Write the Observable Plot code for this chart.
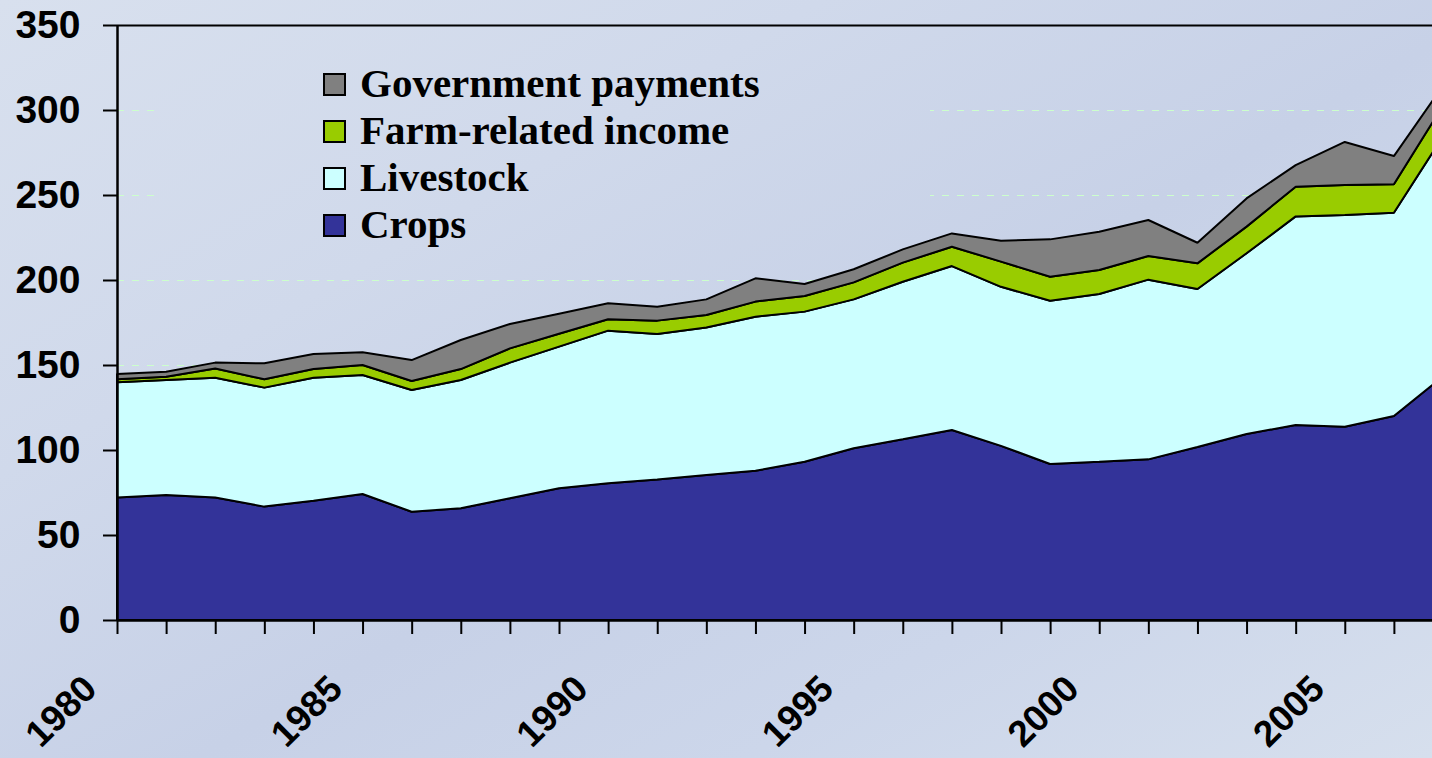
<!DOCTYPE html>
<html>
<head>
<meta charset="utf-8">
<script src="https://cdn.jsdelivr.net/npm/d3@7"></script>
<script src="https://cdn.jsdelivr.net/npm/@observablehq/plot@0.6"></script>
<style>
  html, body { margin: 0; padding: 0; width: 1432px; height: 758px; overflow: hidden; }
  .bg {
    background: linear-gradient(150deg, #d8e0ee 0%, #d0d9eb 30%, #c7d1e7 55%, #ccd6ea 75%, #d6dfed 100%);
    background-attachment: fixed;
  }
  #chart { position: absolute; left: 0; top: 0; }
  #legendBox { position: absolute; left: 156px; top: 48px; width: 774px; height: 188px; }
  .sw { position: absolute; left: 323px; width: 23px; height: 23px; box-sizing: border-box; border: 2px solid #000; }
  .lt { position: absolute; left: 360px; font: bold 41px "Liberation Serif", "Times New Roman", serif; line-height: 41px; color: #000; white-space: nowrap; }
</style>
</head>
<body class="bg">
<div id="chart"></div>
<div id="legendBox" class="bg"></div>
<div id="legend"></div>
<script>
const years = [1980,1981,1982,1983,1984,1985,1986,1987,1988,1989,1990,1991,1992,1993,1994,1995,1996,1997,1998,1999,2000,2001,2002,2003,2004,2005,2006,2007];
const crops = [72,73.5,72,66.7,70.2,74.1,63.7,65.7,71.6,77.5,80.4,82.7,85.3,87.8,93.1,101,106.3,111.8,102.4,91.8,93.1,94.5,101.8,109.4,114.7,113.7,120,143.3];
const livestock = [67.8,67.7,70.5,70,72.3,70,71.6,75.5,79.8,83.3,89.8,85.5,86.7,90.6,88.3,87.6,92.7,96.4,93.6,96,98.7,105.7,92.9,106.3,122.7,124.5,119.6,141.3];
const farmRelated = [1.8,1.9,5.5,4.9,5.1,5.9,5.3,6.4,8.4,7.6,6.7,7.9,7.4,8.9,9.2,10,11.2,11.4,14.8,14.1,14.1,13.9,15.1,15.7,17.5,17.7,16.7,18];
const government = [3.1,2.9,3.4,9.4,8.9,7.5,12.3,17.1,14.3,11.8,9.4,8.2,9.2,13.7,7.0,7.7,7.8,7.8,12.3,22,22.5,21.2,12.1,16.6,12.7,25.3,16.6,11.6];
const seriesNames = ["Crops", "Livestock", "Farm-related income", "Government payments"];
const seriesColors = ["#333399", "#ccffff", "#99cc00", "#808080"];
const yTicks = [0,50,100,150,200,250,300,350];
const gridTicks = [50,100,150,200,250,300];
const xLabelYears = [1980,1985,1990,1995,2000,2005];
const xTickYears = years.slice(0, 27);

const seriesValues = [crops, livestock, farmRelated, government];
const data = [];
seriesNames.forEach((s, i) => years.forEach((yr, j) => data.push({year: yr, series: s, value: seriesValues[i][j]})));

const sans = '"Liberation Sans", Arial, sans-serif';

const plot = Plot.plot({
  width: 1432,
  height: 758,
  marginLeft: 117,
  marginRight: 0,
  marginTop: 25,
  marginBottom: 138,
  style: {background: "transparent", overflow: "hidden", fontFamily: sans},
  x: {domain: [1980, 2007], range: [117, 1443]},
  y: {domain: [0, 350]},
  color: {domain: seriesNames, range: seriesColors},
  marks: [
    Plot.ruleY(gridTicks, {stroke: "#ccffcc", strokeWidth: 1.2, strokeDasharray: "7,8"}),
    Plot.areaY(data, {x: "year", y: "value", z: "series", fill: "series", order: seriesNames, stroke: "#000", strokeWidth: 2, strokeLinejoin: "miter"}),
    Plot.ruleY([350], {stroke: "#000", strokeWidth: 2, x1: 1980, x2: 2007}),
    Plot.ruleY([0], {stroke: "#000", strokeWidth: 2.5}),
    Plot.ruleX([1980], {stroke: "#000", strokeWidth: 2.5}),
    Plot.axisY({ticks: yTicks, tickSize: 14, tickPadding: 23, fontSize: 39, fontWeight: "bold", strokeWidth: 2, label: null, fill: "#000"}),
    Plot.axisX({ticks: xTickYears, tickSize: 14, tickFormat: () => "", strokeWidth: 2, label: null}),
    Plot.text(xLabelYears, {x: d => d, frameAnchor: "bottom", text: d => String(d), rotate: -45, textAnchor: "end", lineAnchor: "middle", dx: -27, dy: 62, fontSize: 37, fontWeight: "bold", fill: "#000"})
  ]
});
document.getElementById("chart").appendChild(plot);

const legend = document.getElementById("legend");
const order = [3, 2, 1, 0];
order.forEach((si, row) => {
  const sw = document.createElement("div");
  sw.className = "sw";
  sw.style.top = (73 + 47 * row) + "px";
  sw.style.background = seriesColors[si];
  legend.appendChild(sw);
  const t = document.createElement("div");
  t.className = "lt";
  t.style.top = (63 + 47 * row) + "px";
  t.textContent = seriesNames[si];
  legend.appendChild(t);
});
</script>
</body>
</html>
